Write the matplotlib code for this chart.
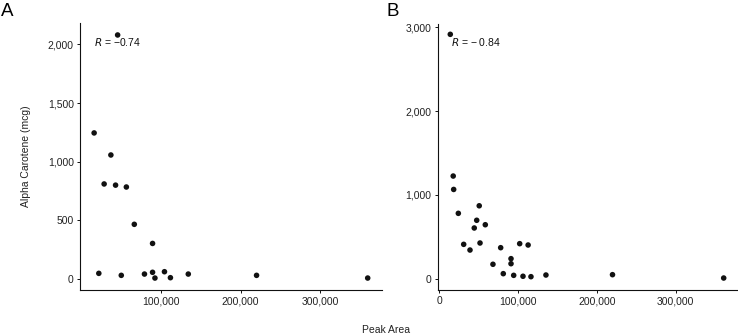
import numpy as np
import matplotlib
matplotlib.use("Agg")
import matplotlib.pyplot as plt
from matplotlib.ticker import FuncFormatter

plt.rcParams['font.family'] = ['Liberation Sans', 'DejaVu Sans']

# -------------------- data --------------------
a_peak = [45000, 15400, 36500, 28000, 42400, 56000, 66000, 89000, 21300, 49600,
          78800, 89000, 92000, 104000, 111500, 134000, 220000, 360000]
a_alpha = [2080, 1245, 1057, 810, 800, 784, 466, 303, 48, 31,
           42, 57, 8, 62, 11, 42, 31, 8]
a_label = "$\\it{R}$ = \u22120.74"

b_peak = [14300, 18000, 18600, 24500, 51000, 47800, 44700, 58700, 31300, 39300,
          52000, 78200, 102300, 113000, 91300, 91300, 68400, 81500, 94700, 106500,
          116600, 135600, 220000, 361000]
b_alpha = [2916, 1225, 1065, 780, 870, 697, 605, 644, 410, 342,
           426, 370, 418, 402, 239, 179, 172, 60, 40, 29,
           24, 44, 48, 8]
b_label = "$\\it{R}$ = \u2212 0.84"

comma = FuncFormatter(lambda v, p: f"{int(v):,}")

fig = plt.figure(figsize=(7.38, 3.35), dpi=100)
ax_a = fig.add_axes([0.1084, 0.1343, 0.4092, 0.797])
ax_b = fig.add_axes([0.5931, 0.1343, 0.4060, 0.7940])


def style(ax):
    for s in ['top', 'right']:
        ax.spines[s].set_visible(False)
    for s in ['left', 'bottom']:
        ax.spines[s].set_linewidth(0.8)
        ax.spines[s].set_color('#111111')
    ax.tick_params(length=2.5, width=0.7, colors='#111111', labelsize=7.5,
                   labelcolor='#222222', pad=2)
    ax.xaxis.set_major_formatter(comma)
    ax.yaxis.set_major_formatter(comma)


# -------------------- panel A --------------------
ax_a.scatter(a_peak, a_alpha, s=16, color='#111111', edgecolors='none', zorder=3)
ax_a.set_xlim(-2400, 378000)
ax_a.set_ylim(-94, 2182)
ax_a.set_xticks([100000, 200000, 300000])
ax_a.set_yticks([0, 500, 1000, 1500, 2000])
ax_a.text(15400, 2022, a_label, fontsize=7.5, va='center', ha='left', color='#111111')
ax_a.set_ylabel("Alpha Carotene (mcg)", fontsize=7.5, color='#222222', labelpad=12)
style(ax_a)

# -------------------- panel B --------------------
ax_b.scatter(b_peak, b_alpha, s=16, color='#111111', edgecolors='none', zorder=3)
ax_b.set_xlim(-1650, 378300)
ax_b.set_ylim(-135, 3039)
ax_b.set_xticks([0, 100000, 200000, 300000])
ax_b.set_yticks([0, 1000, 2000, 3000])
ax_b.text(15200, 2825, b_label, fontsize=7.5, va='center', ha='left', color='#111111')
style(ax_b)

fig.text(0.001, 0.99, "A", fontsize=13.5, va='top', ha='left')
fig.text(0.524, 0.99, "B", fontsize=13.5, va='top', ha='left')
fig.text(0.523, 0.016, "Peak Area", fontsize=7.5, ha='center', va='center', color='#222222')

fig.savefig("out.png", dpi=100)
